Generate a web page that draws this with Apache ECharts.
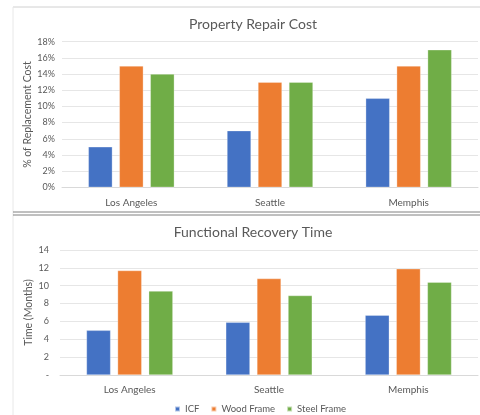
<!DOCTYPE html>
<html><head><meta charset="utf-8">
<script src="https://cdn.jsdelivr.net/npm/echarts@6/dist/echarts.min.js"></script>
<style>html,body{margin:0;padding:0;background:#fff}#c{width:480px;height:415px}</style>
</head><body><div id="c"></div>
<script>
const categories = ['Los Angeles', 'Seattle', 'Memphis'];
const seriesNames = ['ICF', 'Wood Frame', 'Steel Frame'];
const repairCost = {
  'ICF': [5, 7, 11],
  'Wood Frame': [15, 13, 15],
  'Steel Frame': [14, 13, 17]
};
const recoveryTime = {
  'ICF': [5.0, 5.9, 6.7],
  'Wood Frame': [11.7, 10.8, 11.9],
  'Steel Frame': [9.4, 8.9, 10.4]
};
const colors = ['#4472C4', '#ED7D31', '#70AD47'];
const FONT = 'Lato';
const chart = echarts.init(document.getElementById('c'));
const axisLab = {color: '#595959', fontFamily: FONT};
const series = [];
seriesNames.forEach((n, i) => {
  series.push({name: n, type: 'bar', xAxisIndex: 0, yAxisIndex: 0, data: repairCost[n],
    itemStyle: {color: colors[i], borderColor: 'rgba(255,255,255,0.6)', borderWidth: 0.5}, barGap: '29%', barCategoryGap: '38%'});
  series.push({name: n, type: 'bar', xAxisIndex: 1, yAxisIndex: 1, data: recoveryTime[n],
    itemStyle: {color: colors[i], borderColor: 'rgba(255,255,255,0.6)', borderWidth: 0.5}, barGap: '29%', barCategoryGap: '38%'});
});
chart.setOption({
  animation: false,
  color: colors,
  title: [
    {text: 'Property Repair Cost', left: 248, top: 12, textAlign: 'center',
     textStyle: {fontFamily: FONT, fontSize: 14, fontWeight: 'normal', color: '#595959'}},
    {text: 'Functional Recovery Time', left: 248, top: 220, textAlign: 'center',
     textStyle: {fontFamily: FONT, fontSize: 14, fontWeight: 'normal', color: '#595959'}}
  ],
  legend: {data: seriesNames, top: 399, left: 169, itemWidth: 5, itemHeight: 5, itemGap: 11,
    icon: 'rect', textStyle: {fontFamily: FONT, fontSize: 9.5, color: '#595959'}},
  grid: [
    {left: 62, right: 2, top: 41.7, height: 145.6},
    {left: 60, right: 2, top: 250, height: 125}
  ],
  xAxis: [0, 1].map(g => ({type: 'category', gridIndex: g, data: categories,
    axisLine: {lineStyle: {color: '#d9d9d9'}}, axisTick: {show: false},
    axisLabel: Object.assign({fontSize: 10, margin: 10}, axisLab)})),
  yAxis: [
    {type: 'value', gridIndex: 0, min: 0, max: 18, interval: 2,
     name: '% of Replacement Cost', nameLocation: 'middle', nameGap: 29, nameMoveOverlap: false,
     nameTextStyle: {fontFamily: FONT, fontSize: 10.5, color: '#595959'},
     axisLabel: Object.assign({fontSize: 9, margin: 7, formatter: v => v + '%'}, axisLab),
     splitLine: {lineStyle: {color: '#e6e6e6'}}, axisLine: {show: false}},
    {type: 'value', gridIndex: 1, min: 0, max: 14, interval: 2,
     name: 'Time (Months)', nameLocation: 'middle', nameGap: 26, nameMoveOverlap: false,
     nameTextStyle: {fontFamily: FONT, fontSize: 10.5, color: '#595959'},
     axisLabel: Object.assign({fontSize: 9, margin: 11, formatter: v => v === 0 ? '-' : String(v)}, axisLab),
     splitLine: {lineStyle: {color: '#e6e6e6'}}, axisLine: {show: false}}
  ],
  graphic: [
    {type: 'line', shape: {x1: 13, y1: 7, x2: 480, y2: 7}, style: {stroke: '#d0d0d0', lineWidth: 1}},
    {type: 'line', shape: {x1: 13, y1: 7, x2: 13, y2: 415}, style: {stroke: '#e8e8e8', lineWidth: 1}},
    {type: 'line', shape: {x1: 13, y1: 212, x2: 480, y2: 212}, style: {stroke: '#808080', lineWidth: 1}},
    {type: 'line', shape: {x1: 13, y1: 215, x2: 480, y2: 215}, style: {stroke: '#808080', lineWidth: 1}}
  ],
  series: series
});
</script></body></html>
